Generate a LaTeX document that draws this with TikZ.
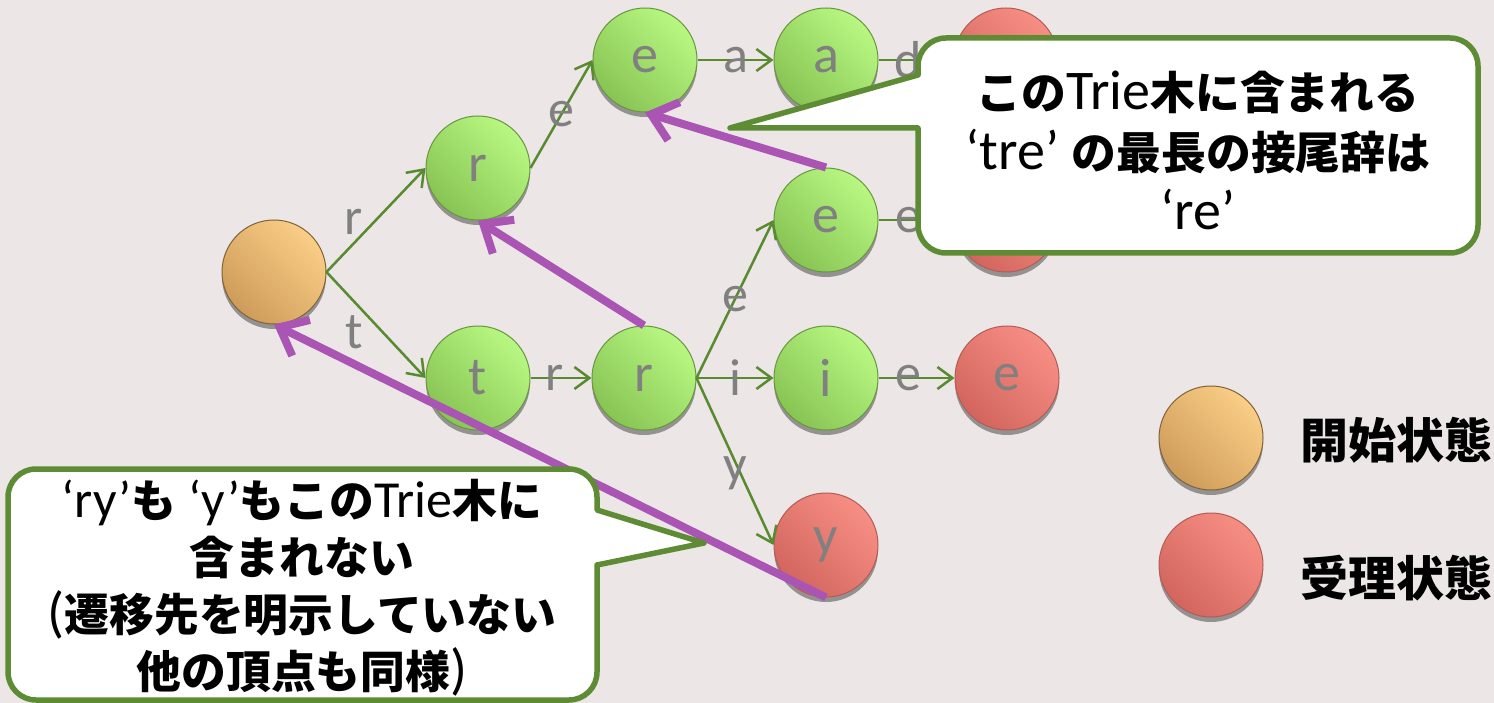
\documentclass[tikz,border=0pt]{standalone}
\usepackage{fontspec}
\setmainfont{Carlito}
\newfontfamily\cjk{Noto Sans CJK JP}[Scale=0.8]
\newcommand{\jp}[1]{{\cjk\bfseries #1}}
\usetikzlibrary{arrows.meta,shadows}
\definecolor{bgc}{RGB}{236,230,230}
\definecolor{glight}{RGB}{184,248,130}
\definecolor{gdark}{RGB}{136,196,84}
\definecolor{gborder}{RGB}{104,150,62}
\definecolor{olight}{RGB}{250,206,134}
\definecolor{odark}{RGB}{206,156,90}
\definecolor{oborder}{RGB}{128,98,54}
\definecolor{rlight}{RGB}{247,142,132}
\definecolor{rdark}{RGB}{210,102,94}
\definecolor{rborder}{RGB}{178,92,86}
\definecolor{edgec}{RGB}{88,138,48}
\definecolor{failc}{RGB}{170,85,180}
\definecolor{callbd}{RGB}{94,140,52}
\definecolor{lblc}{RGB}{128,128,128}
\begin{document}
\begin{tikzpicture}[x=1pt,y=-1pt,
  state/.style={circle, minimum size=104pt, inner sep=0pt, line width=1pt,
    font=\fontsize{54}{54}\selectfont, text=lblc,
    drop shadow={shadow xshift=0pt, shadow yshift=-5pt, opacity=0.55, fill=black!70}},
  gstate/.style={state, draw=gborder, top color=glight, bottom color=gdark, shading angle=-45},
  ostate/.style={state, draw=oborder, top color=olight, bottom color=odark, shading angle=-45},
  rstate/.style={state, draw=rborder, top color=rlight, bottom color=rdark, shading angle=-45},
  tedge/.style={draw=edgec, line width=2.5pt, -{Straight Barb[length=15pt,width=22pt]}},
  elab/.style={text=lblc, font=\fontsize{52}{52}\selectfont, inner sep=0pt},
  faillink/.style={draw=failc, line width=8pt, -{Straight Barb[length=24pt,width=40pt]}},
  callout/.style={draw=callbd, line width=5.5pt, fill=white, line join=round},
  calltext/.style={align=center, font=\fontsize{56}{60}\selectfont, text=black, inner sep=0pt},
  legtext/.style={anchor=west, font=\cjk\bfseries\fontsize{60}{60}\selectfont, text=black, inner sep=0pt}
]
\fill[bgc] (0,0) rectangle (1494,703);
\useasboundingbox (0,0) rectangle (1494,703);

% states
\node[ostate] (root) at (274,272) {};
\node[gstate] (r1) at (478,168) {r};
\node[gstate] (e1) at (645,60) {e};
\node[gstate] (a) at (826,60) {a};
\node[rstate] (d) at (1006,60) {};
\node[gstate] (e2) at (826,220) {e};
\node[rstate] (e3) at (1006,220) {};
\node[gstate] (t) at (478,378) {t};
\node[gstate] (r2) at (644,378) {r};
\node[gstate] (i) at (826,378) {i};
\node[rstate] (e4) at (1007,378) {e};
\node[rstate] (y) at (826,545) {y};

% transitions
\draw[tedge] (root.east) -- node[elab, xshift=-22pt, yshift=-2pt] {r} (r1.west);
\draw[tedge] (root.east) -- node[elab, xshift=-22pt, yshift=-7pt] {t} (t.west);
\draw[tedge] (r1.east) -- node[elab] {e} (e1.west);
\draw[tedge] (e1.east) -- node[elab] {a} (a.west);
\draw[tedge] (a.east) -- node[elab, xshift=-8pt] {d} (d.west);
\draw[tedge] (e2.east) -- node[elab, xshift=-8pt] {e} (e3.west);
\draw[tedge] (t.east) -- node[elab, xshift=-6pt] {r} (r2.west);
\draw[tedge] (r2.east) -- node[elab] {e} (e2.west);
\draw[tedge] (r2.east) -- node[elab] {i} (i.west);
\draw[tedge] (r2.east) -- node[elab, yshift=-12pt] {y} (y.west);
\draw[tedge] (i.east) -- node[elab, xshift=-8pt] {e} (e4.west);

% failure links
\draw[faillink] (r2.north) -- (r1.south);
\draw[faillink] (e2.north) -- (e1.south);
\draw[faillink] (y.south) -- (root.south);

% legend
\node[ostate] (legstart) at (1211,438) {};
\node[rstate] (legacc) at (1211,565) {};
\node[legtext] (legstarttext) at (1300,440) {開始状態};
\node[legtext] (legacctext) at (1300,578) {受理状態};

% callout 1
\draw[callout] (918,128) -- (730,128) -- (918,75) [rounded corners=28pt] -- (918,38) -- (1478,38) -- (1478,253) -- (918,253) [sharp corners] -- cycle;
\node[calltext] (c1) at (1198,150) {\jp{この}Trie\jp{木に含まれる}\\‘tre’ \jp{の最長の接尾辞は}\\‘re’};

% callout 2
\draw[callout] (597,565) -- (704,543) -- (597,510) [rounded corners=28pt] -- (597,469) -- (8,469) -- (8,700) -- (597,700) [sharp corners] -- cycle;
\node[calltext, font=\fontsize{56}{57}\selectfont] (c2) at (302,588) {{\fontsize{52}{57}\selectfont‘ry’}\jp{も} {\fontsize{52}{57}\selectfont‘y’}\jp{もこの}{\fontsize{52}{57}\selectfont Trie}\jp{木に}\\\jp{含まれない}\\(\jp{遷移先を明示していない}\\\jp{他の頂点も同様})};
\end{tikzpicture}
\end{document}
